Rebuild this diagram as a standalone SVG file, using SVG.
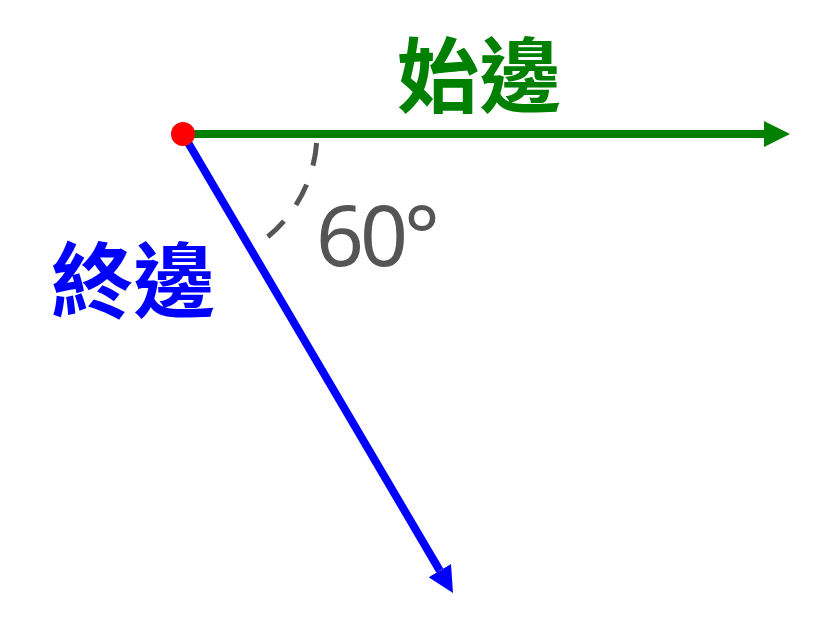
<svg xmlns="http://www.w3.org/2000/svg" width="819" height="622" viewBox="0 0 819 622">
<style>
.cjk{font-family:"Noto Sans CJK TC","Noto Sans CJK JP",sans-serif;font-weight:bold;font-size:82px;text-anchor:middle}
.num{font-family:"Noto Sans","Open Sans",sans-serif;font-size:84px;fill:#555555;letter-spacing:-4px}
.ray{stroke-width:8;fill:none}
</style>
<defs>
<marker id="ag" markerUnits="userSpaceOnUse" markerWidth="26" markerHeight="26" refX="0" refY="13" orient="auto" viewBox="0 0 26 26"><path d="M0,0 L26,13 L0,26 Z" fill="#008000"/></marker>
<marker id="ab" markerUnits="userSpaceOnUse" markerWidth="26" markerHeight="26" refX="0" refY="13" orient="auto" viewBox="0 0 26 26"><path d="M0,0 L26,13 L0,26 Z" fill="#0000FF"/></marker>
</defs>
<rect width="819" height="622" fill="#ffffff"/>
<g id="connectors">
<line class="ray" x1="183" y1="134" x2="764" y2="134" stroke="#008000" marker-end="url(#ag)"/>
<line class="ray" x1="183" y1="134" x2="439.8" y2="570.6" stroke="#0000FF" marker-end="url(#ab)"/>
<path id="angle-arc" d="M316.6,143 A134,134 0 0 1 267.8,236.7" fill="none" stroke="#555555" stroke-width="5" stroke-dasharray="23 20"/>
</g>
<g id="vertex"><circle cx="183" cy="134" r="12" fill="#FF0000"/></g>
<g id="initial-side-label"><text class="cjk" x="479" y="106" fill="#008000">始邊</text></g>
<g id="terminal-side-label"><text class="cjk" x="133" y="311" fill="#0000FF">終邊</text></g>
<g id="angle-label"><text class="num" x="316" y="266">60°</text></g>
</svg>
